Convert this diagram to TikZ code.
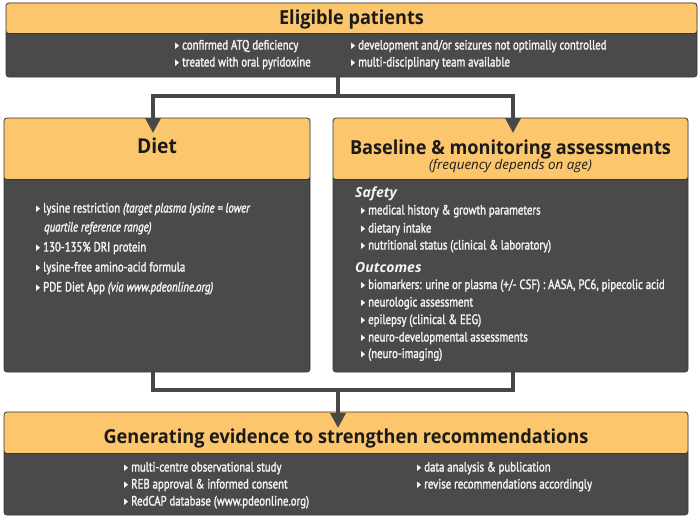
\documentclass[tikz,border=0pt]{standalone}
\usepackage{fontspec}
\setmainfont{Open Sans}
\newfontfamily\condf[FakeStretch=0.8,FakeBold=1.8]{PT Sans}
\newfontfamily\titlef[FakeStretch=0.94]{Open Sans}
\newfontfamily\subf{Open Sans}
\usetikzlibrary{arrows.meta,calc}
\definecolor{hdr}{HTML}{FCC66C}
\definecolor{bodyc}{HTML}{4A4A4A}
\definecolor{edgec}{HTML}{383838}
\definecolor{connc}{HTML}{484848}
\definecolor{txtc}{HTML}{F4F4F4}
\definecolor{ttlc}{HTML}{1A1A1A}
\newcommand{\tri}{\tikz[baseline=0pt]\fill[txtc] (0pt,0.6pt)--(0pt,7pt)--(3.8pt,3.8pt)--cycle;\hspace{3.2pt}}
\tikzset{
  panel/.style={draw=edgec, line width=0.8pt, fill=bodyc, rounded corners=3pt,
    inner sep=0pt, outer sep=0pt, anchor=north west,
    path picture={\fill[hdr] (path picture bounding box.north west) rectangle ([yshift=-#1]path picture bounding box.north east);
      \draw[edgec, line width=0.6pt] ([yshift=-#1]path picture bounding box.north west) -- ([yshift=-#1]path picture bounding box.north east);}},
  bul/.style={anchor=base west, inner sep=0pt, text=txtc, font=\condf\fontsize{13.5}{15}\selectfont},
  ttl/.style={anchor=base, inner sep=0pt, text=ttlc, font=\titlef\bfseries\fontsize{19.3}{22}\selectfont},
  sub/.style={anchor=base west, inner sep=0pt, text=txtc, font=\subf\bfseries\itshape\fontsize{14}{16}\selectfont},
  conn/.style={draw=connc, line width=3.5pt, line join=miter},
  tipc/.style={-{Triangle[width=15pt,length=15pt]}}
}
\begin{document}
\begin{tikzpicture}[x=1pt,y=-1pt]
\useasboundingbox (0,0) rectangle (700,519);
\fill[white] (0,0) rectangle (700,519);
% panels
\node[panel=30pt, minimum width=691pt, minimum height=74pt] (top) at (6,3) {};
\node[panel=61pt, minimum width=306pt, minimum height=254pt] (diet) at (4,118) {};
\node[panel=61pt, minimum width=355pt, minimum height=254pt] (base) at (333,118) {};
\node[panel=41pt, minimum width=684pt, minimum height=103pt] (gen) at (4,412) {};
% connector points
\coordinate (topout) at ($(top.south west)+(332,0)$);
\coordinate (bar1) at ($(topout)+(0,19)$);
\coordinate (dietin) at ($(diet.north west)+(149,15)$);
\coordinate (basein) at ($(base.north west)+(180,15)$);
\coordinate (dietout) at ($(diet.south west)+(149,0)$);
\coordinate (baseout) at ($(base.south west)+(180,0)$);
\coordinate (bar2) at ($(dietout)+(185,18)$);
\coordinate (genin) at ($(gen.north west)+(334,16)$);
\draw[conn] (topout) -- (bar1);
\draw[conn,tipc] (bar1) -| (dietin);
\draw[conn,tipc] (bar1) -| (basein);
\draw[conn] (dietout) |- (bar2) -| (baseout);
\draw[conn,tipc] (bar2) -- (genin);
% top box
\node[ttl] (ttop) at (351.5,25) {Eligible patients};
\node[bul] (t1) at (175,49.5) {\tri confirmed ATQ deficiency};
\node[bul] (t2) at (175,66.5) {\tri treated with oral pyridoxine};
\node[bul] (t3) at (351,49.5) {\tri development and/or seizures not optimally controlled};
\node[bul] (t4) at (351,66.5) {\tri multi-disciplinary team available};
% diet
\node[ttl, font=\titlef\bfseries\fontsize{20.5}{24}\selectfont] (tdiet) at (157,153.5) {Diet};
\node[bul] (d1) at (36,212.5) {\tri lysine restriction \textit{(target plasma lysine = lower}};
\node[bul] (d1b) at (44,231.5) {\textit{quartile reference range)}};
\node[bul] (d2) at (36,251.5) {\tri 130-135\% DRI protein};
\node[bul] (d3) at (36,271.5) {\tri lysine-free amino-acid formula};
\node[bul] (d4) at (36,291.5) {\tri PDE Diet App \textit{(via www.pdeonline.org)}};
% baseline
\node[ttl] (tbase) at (510.5,154) {Baseline \& monitoring assessments};
\node[anchor=base, inner sep=0pt, text=ttlc, font=\subf\itshape\fontsize{13.4}{15}\selectfont] (sbase) at (510.5,169) {(frequency depends on age)};
\node[sub] (sf) at (355,197) {Safety};
\node[bul] (b1) at (361,214.5) {\tri medical history \& growth parameters};
\node[bul] (b2) at (361,232.5) {\tri dietary intake};
\node[bul] (b3) at (361,249.5) {\tri nutritional status (clinical \& laboratory)};
\node[sub] (oc) at (355,272) {Outcomes};
\node[bul] (b4) at (361,289) {\tri biomarkers: urine or plasma (+/- CSF) : AASA, PC6, pipecolic acid};
\node[bul] (b5) at (361,306.5) {\tri neurologic assessment};
\node[bul] (b6) at (361,324) {\tri epilepsy (clinical \& EEG)};
\node[bul] (b7) at (361,341.5) {\tri neuro-developmental assessments};
\node[bul] (b8) at (361,358) {\tri (neuro-imaging)};
% generating
\node[ttl] (tgen) at (346,443) {Generating evidence to strengthen recommendations};
\node[bul] (g1) at (124,471.5) {\tri multi-centre observational study};
\node[bul] (g2) at (124,488.5) {\tri REB approval \& informed consent};
\node[bul] (g3) at (124,505.5) {\tri RedCAP database (www.pdeonline.org)};
\node[bul] (g4) at (417,471.5) {\tri data analysis \& publication};
\node[bul] (g5) at (417,488.5) {\tri revise recommendations accordingly};
\end{tikzpicture}
\end{document}
